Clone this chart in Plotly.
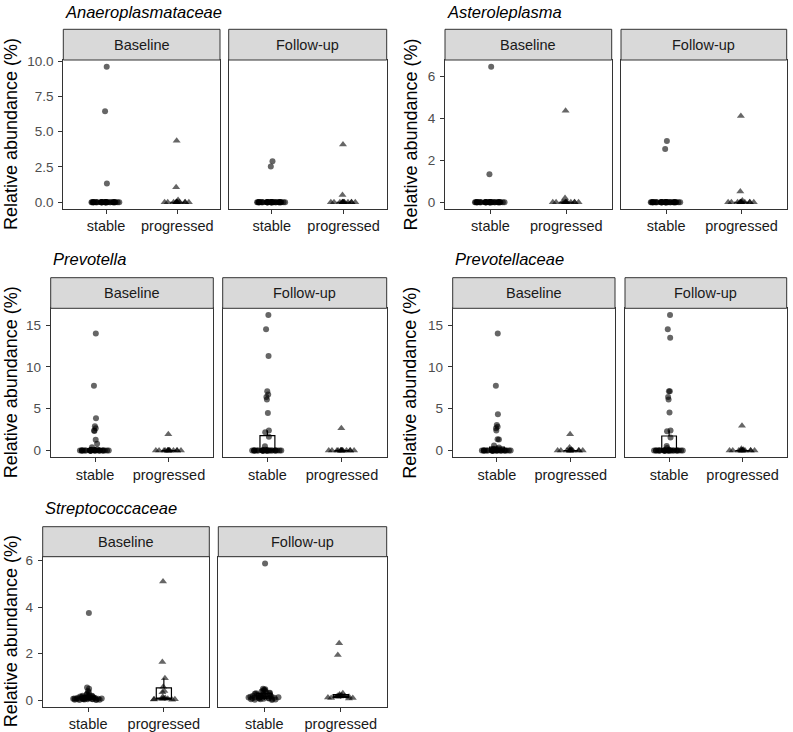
import plotly.graph_objects as go

W, H = 793, 732

GENERA = ["Anaeroplasmataceae", "Asteroleplasma", "Prevotella", "Prevotellaceae", "Streptococcaceae"]
TIMEPOINTS = ["Baseline", "Follow-up"]
GROUPS = ["stable", "progressed"]
Y_AXIS_TITLE = "Relative abundance (%)"

# ---- Anaeroplasmataceae ----
ANA_BASE_STABLE = [9.6, 6.45, 1.32,
                   0, 0, 0, 0, 0, 0, 0, 0, 0, 0,
                   0, 0, 0, 0, 0, 0, 0, 0, 0, 0,
                   0, 0, 0, 0, 0, 0, 0, 0, 0, 0,
                   0, 0, 0, 0, 0, 0, 0, 0]
ANA_BASE_PROG = [4.35, 1.07, 0.15,
                 0, 0, 0, 0, 0, 0, 0, 0, 0, 0, 0, 0]
ANA_FOLL_STABLE = [2.9, 2.53,
                   0, 0, 0, 0, 0, 0, 0, 0, 0, 0,
                   0, 0, 0, 0, 0, 0, 0, 0, 0, 0,
                   0, 0, 0, 0, 0, 0, 0, 0, 0, 0,
                   0, 0, 0, 0, 0, 0, 0, 0, 0]
ANA_FOLL_PROG = [4.1, 0.52,
                 0, 0, 0, 0, 0, 0, 0, 0, 0, 0, 0, 0, 0]

# ---- Asteroleplasma ----
AST_BASE_STABLE = [6.45, 1.33,
                   0, 0, 0, 0, 0, 0, 0, 0, 0, 0,
                   0, 0, 0, 0, 0, 0, 0, 0, 0, 0,
                   0, 0, 0, 0, 0, 0, 0, 0, 0, 0,
                   0, 0, 0, 0, 0, 0, 0, 0, 0]
AST_BASE_PROG = [4.35, 0.2,
                 0, 0, 0, 0, 0, 0, 0, 0, 0, 0, 0, 0, 0]
AST_FOLL_STABLE = [2.92, 2.54,
                   0, 0, 0, 0, 0, 0, 0, 0, 0, 0,
                   0, 0, 0, 0, 0, 0, 0, 0, 0, 0,
                   0, 0, 0, 0, 0, 0, 0, 0, 0, 0,
                   0, 0, 0, 0, 0, 0, 0, 0, 0]
AST_FOLL_PROG = [4.1, 0.51, 0.08,
                 0, 0, 0, 0, 0, 0, 0, 0, 0, 0, 0, 0]

# ---- Prevotella ----
PRE_BASE_STABLE = [14.0, 7.75, 3.85, 2.9, 2.65, 2.4, 2.35, 1.3, 0.8, 0.4,
                   0.15, 0.1, 0.05, 0.05,
                   0, 0, 0, 0, 0, 0, 0, 0, 0, 0,
                   0, 0, 0, 0, 0, 0, 0, 0, 0, 0,
                   0, 0, 0, 0, 0, 0, 0]
PRE_BASE_PROG = [1.95,
                 0, 0, 0, 0, 0, 0, 0, 0, 0, 0, 0, 0, 0, 0]
PRE_FOLL_STABLE = [16.2, 14.5, 11.3, 7.1, 6.7, 6.4, 6.1, 4.5, 2.4, 2.2,
                   1.65, 0.5, 0.1,
                   0, 0, 0, 0, 0, 0, 0, 0, 0, 0,
                   0, 0, 0, 0, 0, 0, 0, 0, 0, 0,
                   0, 0, 0, 0, 0, 0, 0, 0]
PRE_FOLL_PROG = [2.65,
                 0, 0, 0, 0, 0, 0, 0, 0, 0, 0, 0, 0, 0, 0]

# ---- Prevotellaceae ----
PRV_BASE_STABLE = [14.0, 7.75, 4.35, 3.05, 2.85, 2.65, 2.4, 1.35, 1.33, 0.6,
                   0.35, 0.2, 0.1, 0.05,
                   0, 0, 0, 0, 0, 0, 0, 0, 0, 0,
                   0, 0, 0, 0, 0, 0, 0, 0, 0, 0,
                   0, 0, 0, 0, 0, 0, 0]
PRV_BASE_PROG = [1.95, 0.35, 0.1,
                 0, 0, 0, 0, 0, 0, 0, 0, 0, 0, 0, 0]
PRV_FOLL_STABLE = [16.2, 14.5, 13.5, 7.1, 7.1, 6.4, 6.1, 4.55, 2.4, 2.3,
                   1.55, 0.55, 0.3, 0.1,
                   0, 0, 0, 0, 0, 0, 0, 0, 0, 0,
                   0, 0, 0, 0, 0, 0, 0, 0, 0, 0,
                   0, 0, 0, 0, 0, 0, 0]
PRV_FOLL_PROG = [2.95, 0.2, 0.1,
                 0, 0, 0, 0, 0, 0, 0, 0, 0, 0, 0, 0]

# ---- Streptococcaceae ----
STR_BASE_STABLE = [3.75, 0.55, 0.5, 0.4, 0.35, 0.28, 0.25, 0.22, 0.2, 0.2,
                   0.18, 0.16, 0.15, 0.14, 0.13, 0.12, 0.12, 0.11, 0.1, 0.1,
                   0.1, 0.09, 0.09, 0.08, 0.08, 0.08, 0.07, 0.07, 0.07, 0.06,
                   0.06, 0.06, 0.05, 0.05, 0.05, 0.04, 0.04, 0.03, 0.03, 0.02,
                   0.02]
STR_BASE_PROG = [5.1, 1.65, 0.95, 0.58, 0.4, 0.35, 0.15, 0.1, 0.08, 0.07,
                 0.06, 0.05, 0.05, 0.04, 0.03]
STR_FOLL_STABLE = [5.87, 0.5, 0.48, 0.45, 0.42, 0.4, 0.38, 0.35, 0.33, 0.3,
                   0.3, 0.28, 0.25, 0.25, 0.22, 0.2, 0.2, 0.2, 0.18, 0.18,
                   0.17, 0.16, 0.15, 0.15, 0.14, 0.13, 0.12, 0.12, 0.11, 0.1,
                   0.1, 0.09, 0.08, 0.08, 0.07, 0.06, 0.05, 0.05, 0.04, 0.03,
                   0.02]
STR_FOLL_PROG = [2.45, 1.95, 0.3, 0.25, 0.22, 0.2, 0.2, 0.18, 0.17, 0.15,
                 0.15, 0.12, 0.1, 0.1, 0.08]

# y tick values / labels per genus
ANA_YTICKS = [0, 2.5, 5, 7.5, 10]
ANA_YTICKTEXT = ["0.0", "2.5", "5.0", "7.5", "10.0"]
AST_YTICKS = [0, 2, 4, 6]
AST_YTICKTEXT = ["0", "2", "4", "6"]
PRE_YTICKS = [0, 5, 10, 15]
PRE_YTICKTEXT = ["0", "5", "10", "15"]
PRV_YTICKS = [0, 5, 10, 15]
PRV_YTICKTEXT = ["0", "5", "10", "15"]
STR_YTICKS = [0, 2, 4, 6]
STR_YTICKTEXT = ["0", "2", "4", "6"]

DATA = {
    "Anaeroplasmataceae": [[ANA_BASE_STABLE, ANA_BASE_PROG], [ANA_FOLL_STABLE, ANA_FOLL_PROG]],
    "Asteroleplasma": [[AST_BASE_STABLE, AST_BASE_PROG], [AST_FOLL_STABLE, AST_FOLL_PROG]],
    "Prevotella": [[PRE_BASE_STABLE, PRE_BASE_PROG], [PRE_FOLL_STABLE, PRE_FOLL_PROG]],
    "Prevotellaceae": [[PRV_BASE_STABLE, PRV_BASE_PROG], [PRV_FOLL_STABLE, PRV_FOLL_PROG]],
    "Streptococcaceae": [[STR_BASE_STABLE, STR_BASE_PROG], [STR_FOLL_STABLE, STR_FOLL_PROG]],
}
TICKS = {
    "Anaeroplasmataceae": (ANA_YTICKS, ANA_YTICKTEXT),
    "Asteroleplasma": (AST_YTICKS, AST_YTICKTEXT),
    "Prevotella": (PRE_YTICKS, PRE_YTICKTEXT),
    "Prevotellaceae": (PRV_YTICKS, PRV_YTICKTEXT),
    "Streptococcaceae": (STR_YTICKS, STR_YTICKTEXT),
}

# ---- layout geometry (pixels) ----
GEOM = {
    "Anaeroplasmataceae": dict(cols=[(63.3, 220.0), (228.7, 386.7)], strip=(29.3, 60.0), plot=(60.0, 209.0), title_y=12.0, ytitle_x=10.5),
    "Asteroleplasma": dict(cols=[(445.0, 611.7), (621.0, 786.7)], strip=(29.3, 60.0), plot=(60.0, 209.0), title_y=12.0, ytitle_x=410.0),
    "Prevotella": dict(cols=[(50.7, 213.3), (222.7, 386.7)], strip=(277.7, 308.3), plot=(308.3, 457.3), title_y=258.5, ytitle_x=10.5),
    "Prevotellaceae": dict(cols=[(452.7, 615.0), (625.0, 786.7)], strip=(277.7, 308.3), plot=(308.3, 457.3), title_y=258.5, ytitle_x=410.0),
    "Streptococcaceae": dict(cols=[(42.7, 209.3), (218.3, 386.7)], strip=(526.7, 556.7), plot=(556.7, 706.7), title_y=508.0, ytitle_x=10.5),
}

FONT = "Liberation Sans, Arial, Helvetica, sans-serif"
SYMBOLS = ["circle", "triangle-up"]
SIZES = [6, 7]
BORDER = "#333333"


def fx(p):
    return p / W


def fy(p):
    return 1 - p / H


fig = go.Figure()
layout_axes = {}
shapes = []
annotations = []
ax_i = 0
for genus in GENERA:
    data = DATA[genus]
    allv = [v for tp in data for grp in tp for v in grp]
    lo, hi = min(allv), max(allv)
    pad = 0.05 * (hi - lo)
    yrange = [lo - pad, hi + pad]
    g = GEOM[genus]
    tickvals, ticktext = TICKS[genus]
    for ti, tp in enumerate(TIMEPOINTS):
        ax_i += 1
        xa = "x" if ax_i == 1 else f"x{ax_i}"
        ya = "y" if ax_i == 1 else f"y{ax_i}"
        xkey = "xaxis" if ax_i == 1 else f"xaxis{ax_i}"
        ykey = "yaxis" if ax_i == 1 else f"yaxis{ax_i}"
        x0p, x1p = g["cols"][ti]
        ptop, pbot = g["plot"]
        stop, sbot = g["strip"]
        layout_axes[xkey] = dict(
            domain=[fx(x0p), fx(x1p)], anchor=ya, range=[0.4, 2.6],
            tickvals=[1, 2], ticktext=GROUPS, ticks="outside", ticklen=4,
            tickwidth=1, tickcolor=BORDER, showline=True, linecolor=BORDER,
            linewidth=1, mirror=True, showgrid=False, zeroline=False,
            automargin=False,
            tickfont=dict(family=FONT, size=14.5, color="#1A1A1A"), fixedrange=True)
        left = ti == 0
        layout_axes[ykey] = dict(
            domain=[fy(pbot), fy(ptop)], anchor=xa, range=yrange,
            tickvals=tickvals, ticktext=ticktext,
            ticks="outside" if left else "", ticklen=4, tickwidth=1,
            tickcolor=BORDER, showticklabels=left, ticklabelstandoff=2,
            showline=True, linecolor=BORDER, linewidth=1, mirror=True,
            showgrid=False, zeroline=False, automargin=False,
            tickfont=dict(family=FONT, size=13.5, color="#4D4D4D"), fixedrange=True)
        # strip
        shapes.append(dict(type="rect", xref="paper", yref="paper",
                           x0=fx(x0p), x1=fx(x1p), y0=fy(sbot), y1=fy(stop),
                           fillcolor="#D9D9D9", line=dict(color=BORDER, width=1)))
        annotations.append(dict(text=tp, xref="paper", yref="paper",
                                x=fx((x0p + x1p) / 2), y=fy((stop + sbot) / 2),
                                xanchor="center", yanchor="middle", showarrow=False,
                                font=dict(family=FONT, size=14.5, color="#1A1A1A")))
        for k, grp in enumerate(GROUPS):
            vals = data[ti][k]
            # box
            fig.add_trace(go.Box(
                y=vals, x0=k + 1, width=0.2, boxpoints="outliers",
                marker=dict(opacity=0, size=1), line=dict(color="black", width=1.2),
                fillcolor="white", whiskerwidth=0, xaxis=xa, yaxis=ya,
                showlegend=False, hoverinfo="skip"))
            # jittered points
            fig.add_trace(go.Box(
                y=vals, x0=k + 1, width=0.42, boxpoints="all", jitter=1, pointpos=0,
                line=dict(color="rgba(0,0,0,0)", width=0), fillcolor="rgba(0,0,0,0)",
                marker=dict(symbol=SYMBOLS[k], size=SIZES[k], color="rgba(0,0,0,0.6)",
                            line=dict(width=0)),
                whiskerwidth=0, xaxis=xa, yaxis=ya, showlegend=False, hoverinfo="skip"))
    # genus title
    annotations.append(dict(text=f"<i>{genus}</i>", xref="paper", yref="paper",
                            x=fx(g["cols"][0][0]), y=fy(g["title_y"]),
                            xanchor="left", yanchor="middle", showarrow=False,
                            font=dict(family=FONT, size=16.5, color="black")))
    # y axis title
    ptop, pbot = g["plot"]
    annotations.append(dict(text=Y_AXIS_TITLE, xref="paper", yref="paper",
                            x=fx(g["ytitle_x"]), y=fy((ptop + pbot) / 2),
                            xanchor="center", yanchor="middle", textangle=-90,
                            showarrow=False,
                            font=dict(family=FONT, size=18, color="black")))

fig.update_layout(
    width=W, height=H, autosize=False,
    margin=dict(l=0, r=0, t=0, b=0, pad=0, autoexpand=False),
    paper_bgcolor="white", plot_bgcolor="white",
    boxmode="overlay", showlegend=False,
    shapes=shapes, annotations=annotations,
    **layout_axes)

fig.write_html("out.html",
               config={"displayModeBar": False, "staticPlot": True},
               post_script="document.body.style.margin='0';document.body.style.overflow='hidden';")
